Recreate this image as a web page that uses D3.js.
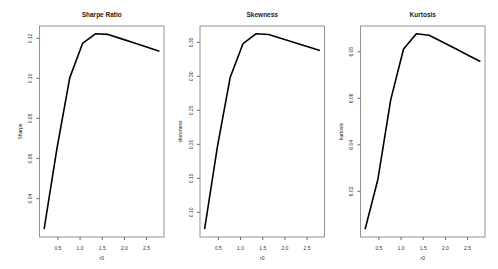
<!DOCTYPE html>
<html>
<head>
<meta charset="utf-8">
<script src="https://cdn.jsdelivr.net/npm/d3@7"></script>
<style>
  body { margin: 0; background: #fff; }
  text { font-family: "Liberation Sans", Arial, sans-serif; fill: #222; }
</style>
</head>
<body>
<script>
// r0 grid and the three measures
const r0 = [0.2, 0.489, 0.778, 1.067, 1.356, 1.644, 1.933, 2.222, 2.511, 2.8];
const sharpe = [0.0245, 0.0647, 0.1000, 0.1172, 0.1220, 0.1217, 0.1196, 0.1175, 0.1154, 0.1133];
const skewness = [0.0745, 0.196, 0.298, 0.3475, 0.3618, 0.3608, 0.3550, 0.3490, 0.3430, 0.3372];
const kurtosis = [6.0035, 6.025, 6.0592, 6.0810, 6.0875, 6.0869, 6.0841, 6.0813, 6.0784, 6.0756];

const xTicks = [0.5, 1.0, 1.5, 2.0, 2.5];
const sharpeTicks = [0.04, 0.06, 0.08, 0.10, 0.12];
const skewTicks = [0.10, 0.15, 0.20, 0.25, 0.30, 0.35];
const kurtTicks = [6.02, 6.04, 6.06, 6.08];

const panels = [
  {title: "Sharpe Ratio", ylab: "Sharpe", values: sharpe, ticks: sharpeTicks, left: 39.5},
  {title: "Skewness", ylab: "skewness", values: skewness, ticks: skewTicks, left: 200},
  {title: "Kurtosis", ylab: "kurtosis", values: kurtosis, ticks: kurtTicks, left: 360.5}
];

const W = 498, H = 269;
const boxW = 124.5, boxTop = 26, boxBottom = 237;

const svg = d3.select("body")
    .append("svg")
    .attr("width", W)
    .attr("height", H);

// R style 4% padding on the data range
function padded(ext) {
  const d = (ext[1] - ext[0]) * 0.04;
  return [ext[0] - d, ext[1] + d];
}

panels.forEach(function(p) {
  const g = svg.append("g").attr("transform", `translate(${p.left},0)`);

  const x = d3.scaleLinear()
      .domain(padded(d3.extent(r0)))
      .range([0, boxW]);
  const y = d3.scaleLinear()
      .domain(padded(d3.extent(p.values)))
      .range([boxBottom, boxTop]);

  // x axis
  const xa = g.append("g")
      .attr("transform", `translate(0,${boxBottom})`)
      .call(d3.axisBottom(x).tickValues(xTicks).tickFormat(d3.format(".1f")).tickSize(3).tickPadding(6));
  xa.select(".domain").remove();
  xa.selectAll("line").attr("stroke", "#666");
  xa.selectAll("text").attr("font-size", 5).style("fill", "#333");

  // y axis, labels rotated like R's las=0
  const ya = g.append("g")
      .call(d3.axisLeft(y).tickValues(p.ticks).tickFormat(d3.format(".2f")).tickSize(3));
  ya.select(".domain").remove();
  ya.selectAll("line").attr("stroke", "#666");
  ya.selectAll("text")
      .attr("font-size", 5)
      .style("fill", "#333")
      .attr("x", null).attr("dy", null)
      .attr("text-anchor", "middle")
      .attr("transform", "translate(-7.5,0) rotate(-90)");

  // box
  g.append("rect")
      .attr("x", 0).attr("y", boxTop)
      .attr("width", boxW).attr("height", boxBottom - boxTop)
      .attr("fill", "none")
      .attr("stroke", "#888")
      .attr("stroke-width", 0.9);

  const line = d3.line()
      .x((d, i) => x(r0[i]))
      .y(d => y(d));

  g.append("path")
      .datum(p.values)
      .attr("fill", "none")
      .attr("stroke", "#000")
      .attr("stroke-width", 1.6)
      .attr("stroke-linejoin", "round")
      .attr("d", line);

  g.append("text")
      .attr("x", boxW / 2).attr("y", 17)
      .attr("text-anchor", "middle")
      .attr("font-size", 6.5)
      .attr("font-weight", "bold")
      .text(p.title);

  g.append("text")
      .attr("x", boxW / 2).attr("y", 260)
      .attr("text-anchor", "middle")
      .attr("font-size", 5)
      .text("r0");

  g.append("text")
      .attr("transform", `translate(-18,${(boxTop + boxBottom) / 2}) rotate(-90)`)
      .attr("text-anchor", "middle")
      .attr("font-size", 5)
      .text(p.ylab);
});
</script>
</body>
</html>
